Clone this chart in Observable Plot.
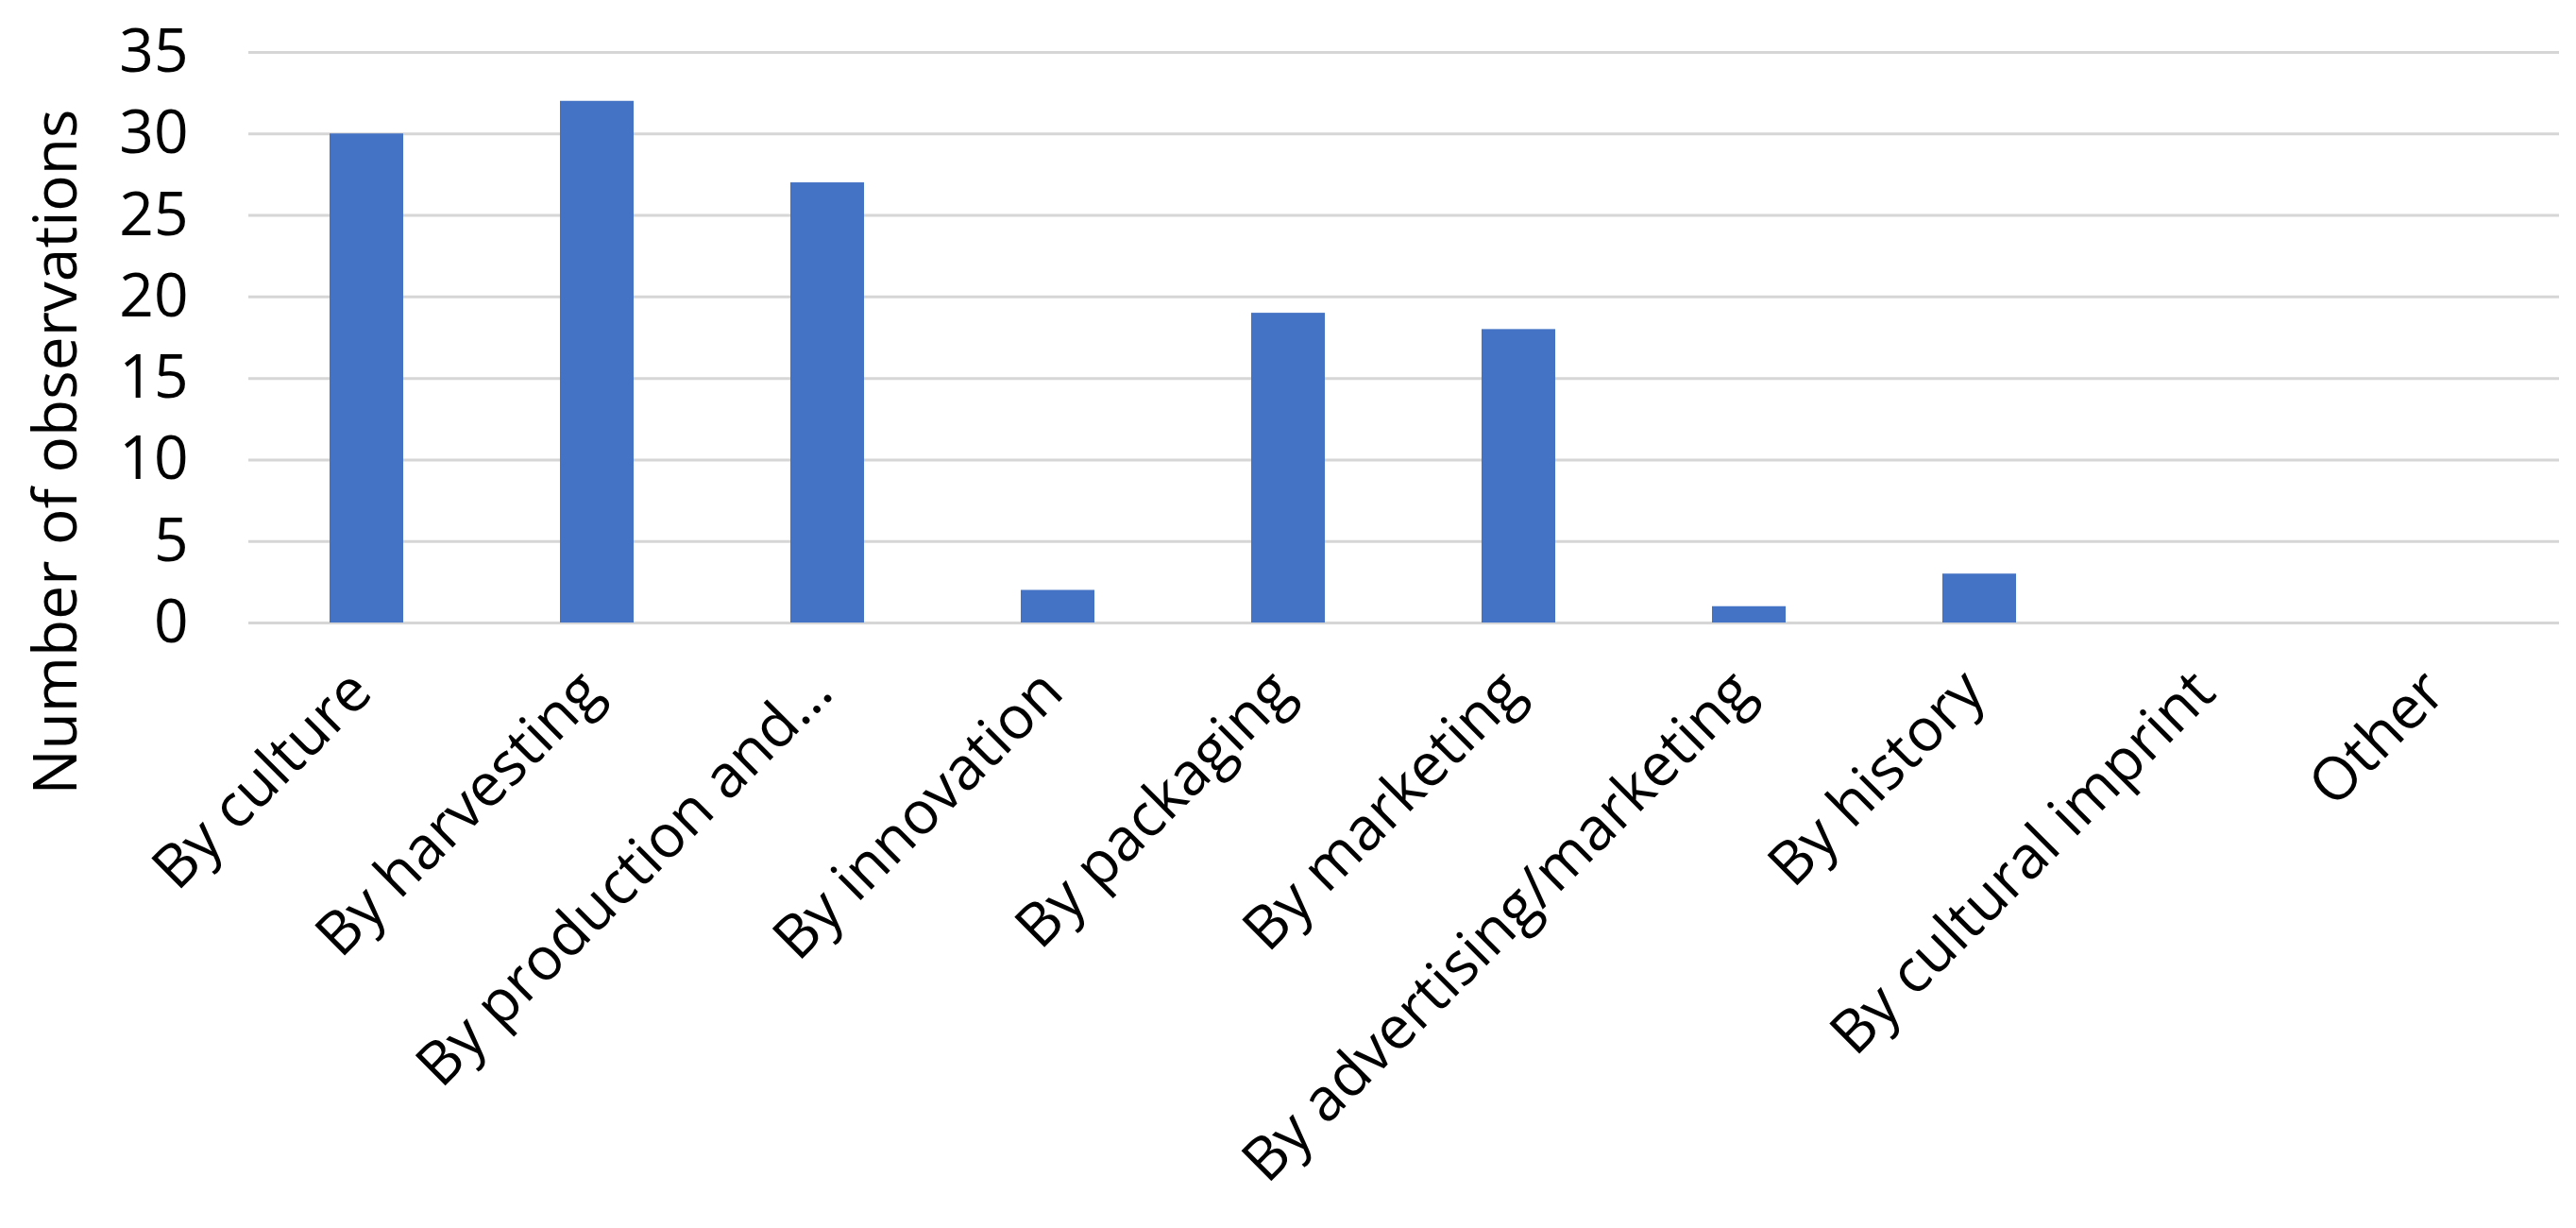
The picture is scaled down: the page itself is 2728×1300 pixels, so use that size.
<!DOCTYPE html>
<html><head><meta charset="utf-8">
<script src="https://cdn.jsdelivr.net/npm/d3@7"></script>
<script src="https://cdn.jsdelivr.net/npm/@observablehq/plot@0.6"></script>
<style>body{margin:0;background:#fff}</style>
</head><body><div id="chart"></div>
<script>
const categories = ["By culture", "By harvesting", "By production and…", "By innovation", "By packaging", "By marketing", "By advertising/marketing", "By history", "By cultural imprint", "Other"];
const counts = [30, 32, 27, 2, 19, 18, 1, 3, 0, 0];
const yTicks = [0, 5, 10, 15, 20, 25, 30, 35];
const yLabel = "Number of observations";

const data = categories.map((c, i) => ({category: c, count: counts[i]}));
const font = "'Open Sans', sans-serif";
const chart = Plot.plot({
  width: 2728, height: 1300,
  marginLeft: 263, marginRight: 18, marginTop: 55, marginBottom: 641,
  style: {fontFamily: font, fontSize: "64px", background: "#fff", color: "#000"},
  x: {domain: categories, paddingInner: 0.68, paddingOuter: 0.34, label: null},
  y: {domain: [0, 35], label: null},
  marks: [
    Plot.ruleY(yTicks, {stroke: "#d6d6d6", strokeWidth: 3}),
    Plot.barY(data, {x: "category", y: "count", fill: "#4472C4"}),
    Plot.axisY(yTicks, {tickSize: 0, tickPadding: 64, label: null, fontSize: 64, fill: "#000"}),
    Plot.axisX({tickRotate: -45, tickSize: 0, tickPadding: 62, dx: -6, label: null, fontSize: 63, fill: "#000"}),
    Plot.text([yLabel], {frameAnchor: "left", textAnchor: "middle", rotate: -90, dx: -203, dy: 121, fontSize: 64, fill: "#000"})
  ]
});
document.getElementById("chart").appendChild(chart);
</script>
</body></html>
